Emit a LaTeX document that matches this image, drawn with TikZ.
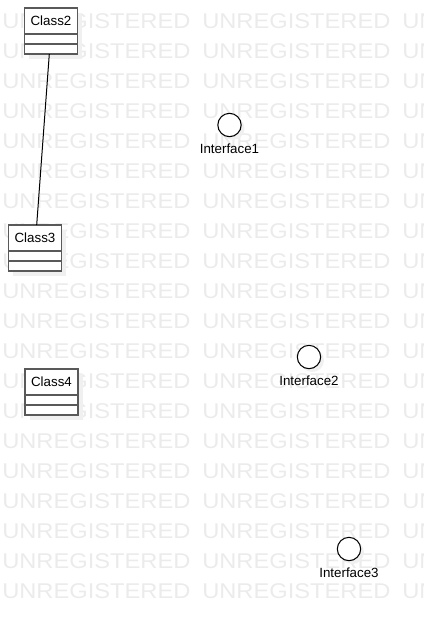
\documentclass[tikz,border=0pt]{standalone}
\usepackage{fontspec}
\setmainfont{Liberation Sans}
\usetikzlibrary{positioning, fit, shadows}
\tikzset{
  watermark/.style={
    text=black!8, inner sep=0pt, anchor=base west,
    font=\fontsize{16}{16}\selectfont
  },
  classpart/.style={
    draw=black!65, fill=white, line width=1.2pt,
    inner sep=0pt, outer sep=0pt, minimum width=39.75pt,
    drop shadow={shadow xshift=3.5pt, shadow yshift=-3.5pt, fill=black!6, opacity=1}
  },
  iface/.style={
    circle, draw, fill=white, line width=0.8pt,
    inner sep=0pt, outer sep=0pt, minimum size=17.5pt,
    drop shadow={shadow xshift=2.5pt, shadow yshift=-2.5pt, fill=black!6, opacity=1}
  }
}

\begin{document}
\begin{tikzpicture}[x=0.75pt, y=-0.75pt, font=\fontsize{10}{12}\selectfont]
\useasboundingbox (0,0) rectangle (424,626);
\clip (0,0) rectangle (424,626);

% Watermark
\foreach \row in {0,...,19} {
  \foreach \col in {0,1,2} {
    \node [watermark] (wm\row\col) at (2+200*\col, 28+30*\row)
      {\scalebox{1.11}[1]{UNREGISTERED}};
  }
}

% Class2
\node [classpart, minimum height=19.5pt] (c2name) at (51,21) {Class2};
\node [classpart, minimum height=7.5pt, below=0pt of c2name] (c2attr) {};
\node [classpart, minimum height=7.5pt, below=0pt of c2attr] (c2ops) {};
\node [fit=(c2name)(c2ops), inner sep=0pt, outer sep=0pt] (class2) {};

% Class3
\node [classpart, minimum height=19.5pt] (c3name) at (35,238) {Class3};
\node [classpart, minimum height=7.5pt, below=0pt of c3name] (c3attr) {};
\node [classpart, minimum height=7.5pt, below=0pt of c3attr] (c3ops) {};
\node [fit=(c3name)(c3ops), inner sep=0pt, outer sep=0pt] (class3) {};

% Class4
\node [classpart, minimum height=19.5pt] (c4name) at (51.5,382) {Class4};
\node [classpart, minimum height=7.5pt, below=0pt of c4name] (c4attr) {};
\node [classpart, minimum height=7.5pt, below=0pt of c4attr] (c4ops) {};

% Interfaces
\node [iface] (if1) at (229.5,125) {};
\node [inner sep=0pt, below=5.5pt of if1] (if1label) {Interface1};

\node [iface] (if2) at (309,357) {};
\node [inner sep=0pt, below=5.5pt of if2] (if2label) {Interface2};

\node [iface] (if3) at (349,549) {};
\node [inner sep=0pt, below=5.5pt of if3] (if3label) {Interface3};

% Association
\draw [line width=0.75pt] (class2) -- (class3);

\end{tikzpicture}
\end{document}
